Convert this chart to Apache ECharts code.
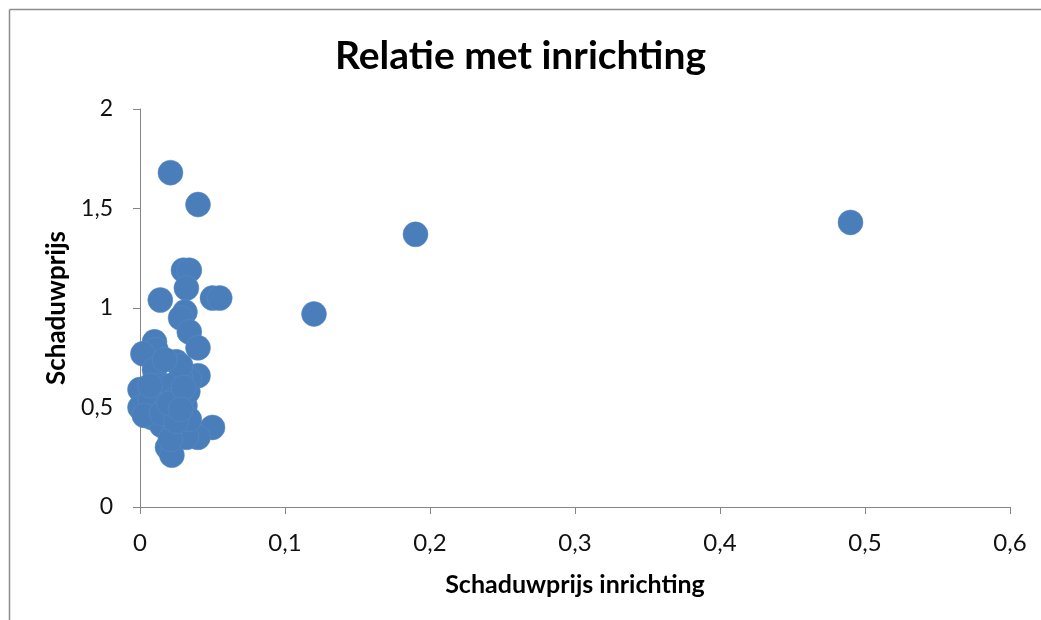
<!DOCTYPE html>
<html>
<head>
<meta charset="utf-8">
<script src="https://cdn.jsdelivr.net/npm/echarts@6/dist/echarts.min.js"></script>
<style>
html,body{margin:0;padding:0;background:#fff;}
#chart{width:1041px;height:620px;}
</style>
</head>
<body>
<div id="chart"></div>
<script>
var titleText = "Relatie met inrichting";
var xName = "Schaduwprijs inrichting";
var yName = "Schaduwprijs";
var xValues = [0.021,0.040,0.030,0.034,0.032,0.014,0.050,0.055,0.031,0.028,0.034,0.040,0.010,0.011,0.002,0.025,0.040,0.000,0.000,0.050,0.040,0.019,0.022,
  0.010,0.012,0.017,0.007,0.008,0.015,0.024,0.032,0.026,0.031,0.033,0.034,0.028,0.021,0.024,0.017,0.028,0.017,0.007,0.021,0.034,0.003,
  0.015,0.025,0.020,0.030,0.028,
  0.120,0.190,0.490];
var yValues = [1.68,1.52,1.19,1.19,1.10,1.04,1.05,1.05,0.98,0.95,0.88,0.80,0.83,0.79,0.77,0.73,0.66,0.59,0.50,0.40,0.35,0.30,0.26,
  0.69,0.61,0.56,0.54,0.45,0.41,0.38,0.35,0.45,0.51,0.58,0.64,0.65,0.61,0.54,0.49,0.71,0.74,0.61,0.34,0.44,0.46,
  0.47,0.43,0.52,0.60,0.49,
  0.97,1.37,1.43];
var xTicks = [0,0.1,0.2,0.3,0.4,0.5,0.6];
var yTicks = [0,0.5,1,1.5,2];

var data = xValues.map(function(x,i){return [x,yValues[i]];});
function fmt(v){ return String(v).replace('.', ','); }
var font = 'Lato, "Open Sans", sans-serif';

var chart = echarts.init(document.getElementById('chart'));
chart.setOption({
  animation:false,
  backgroundColor:'#fff',
  title:{text:titleText,left:'center',top:32,textStyle:{fontFamily:font,fontSize:39,fontWeight:'bold',color:'#000'}},
  grid:{left:140,right:31,top:109,bottom:113},
  xAxis:{type:'value',min:xTicks[0],max:xTicks[xTicks.length-1],interval:0.1,
    name:xName,nameLocation:'middle',nameGap:65,
    nameTextStyle:{fontFamily:font,fontSize:25,fontWeight:'bold',color:'#000'},
    axisLine:{show:true,lineStyle:{color:'#868686'}},
    axisTick:{show:true,length:7,lineStyle:{color:'#868686'}},
    splitLine:{show:false},
    axisLabel:{formatter:fmt,margin:24,fontFamily:font,fontSize:24,color:'#111'}},
  yAxis:{type:'value',min:yTicks[0],max:yTicks[yTicks.length-1],interval:0.5,
    name:yName,nameLocation:'middle',nameGap:70,nameRotate:90,
    nameTextStyle:{fontFamily:font,fontSize:26,fontWeight:'bold',color:'#000'},
    axisLine:{show:true,lineStyle:{color:'#868686'}},
    axisTick:{show:true,length:7,lineStyle:{color:'#868686'}},
    splitLine:{show:false},
    axisLabel:{formatter:fmt,margin:27,fontFamily:font,fontSize:23,color:'#111'}},
  graphic:[
    {type:'line',shape:{x1:9.5,y1:9.5,x2:1041,y2:9.5},style:{stroke:'#8c8c8c',lineWidth:1.5}},
    {type:'line',shape:{x1:9.5,y1:9.5,x2:9.5,y2:620},style:{stroke:'#8c8c8c',lineWidth:1.5}}
  ],
  series:[{type:'scatter',data:data,symbol:'circle',symbolSize:25,
    itemStyle:{color:'#4A7EBB',opacity:1,borderColor:'#5B8CC7',borderWidth:0.5}}]
});
</script>
</body>
</html>
